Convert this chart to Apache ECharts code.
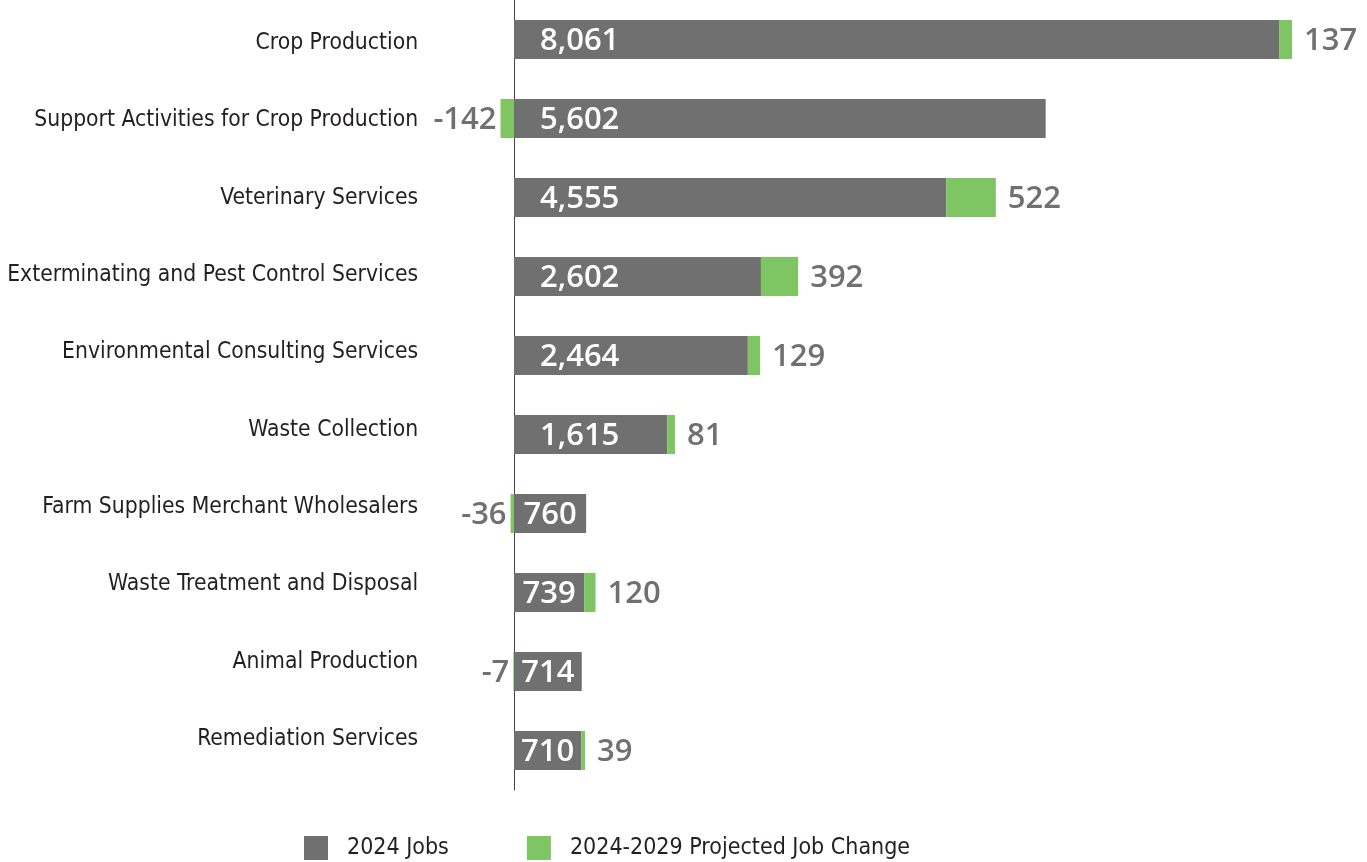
<!DOCTYPE html>
<html>
<head>
<meta charset="utf-8">
<script src="https://cdn.jsdelivr.net/npm/echarts@6/dist/echarts.min.js"></script>
<style>
html,body{margin:0;padding:0;background:#fff;}
#chart{width:1367px;height:862px;}
</style>
</head>
<body>
<div id="chart"></div>
<script>
const categories = [
  'Crop Production',
  'Support Activities for Crop Production',
  'Veterinary Services',
  'Exterminating and Pest Control Services',
  'Environmental Consulting Services',
  'Waste Collection',
  'Farm Supplies Merchant Wholesalers',
  'Waste Treatment and Disposal',
  'Animal Production',
  'Remediation Services'
];
const jobs2024 = [8061, 5602, 4555, 2602, 2464, 1615, 760, 739, 714, 710];
const jobChange = [137, -142, 522, 392, 129, 81, -36, 120, -7, 39];
const seriesNames = ['2024 Jobs', '2024-2029 Projected Job Change'];

const GRAY = '#6f706f';
const GREEN = '#80c563';
const valueFont = 'Open Sans';
const catFont = '"DejaVu Sans Condensed", "Liberation Sans Narrow", Roboto, sans-serif';

const chart = echarts.init(document.getElementById('chart'));

const fmt = v => (v < 0 ? '-' : '') + Math.abs(v).toLocaleString('en-US');

const option = {
  animation: false,
  grid: [
    { left: 419.1, width: 901.6, top: 0, height: 790, containLabel: false },
    { left: 419.1, width: 901.6, top: 4.3, height: 773.4, containLabel: false }
  ],
  xAxis: [
    { gridIndex: 0, type: 'value', min: -1000, max: 8500, show: false },
    { gridIndex: 1, type: 'value', min: 0, max: 1, show: false }
  ],
  yAxis: [
    {
      gridIndex: 0, type: 'category', data: categories, inverse: true,
      axisLine: { show: true, onZero: true, lineStyle: { color: '#444', width: 1 } },
      axisTick: { show: false }, axisLabel: { show: false }, splitLine: { show: false }
    },
    {
      gridIndex: 1, type: 'category', data: categories, inverse: true,
      axisLine: { show: false }, axisTick: { show: false }, splitLine: { show: false },
      axisLabel: {
        show: true, margin: 1,
        fontFamily: catFont, fontSize: 22.7, color: '#231f20'
      }
    }
  ],
  legend: {
    left: 304, top: 836, padding: 0,
    icon: 'rect', itemWidth: 24, itemHeight: 24, itemGap: 78,
    data: seriesNames,
    textStyle: { fontFamily: catFont, fontSize: 23, color: '#231f20', padding: [0, 0, 0, 14] }
  },
  series: [
    {
      name: seriesNames[0], type: 'bar', stack: 'total', xAxisIndex: 0, yAxisIndex: 0,
      barWidth: 39,
      itemStyle: { color: GRAY },
      data: jobs2024.map(v => ({
        value: v,
        label: v < 1000 ? { position: 'inside' } : { position: 'insideLeft', distance: 26 }
      })),
      label: {
        show: true, color: '#fff', fontFamily: valueFont, fontWeight: 600, fontSize: 31,
        offset: [0, 2],
        formatter: p => fmt(p.value)
      }
    },
    {
      name: seriesNames[1], type: 'bar', stack: 'total', xAxisIndex: 0, yAxisIndex: 0,
      barWidth: 39,
      itemStyle: { color: GREEN },
      data: jobChange.map(v => ({
        value: v,
        label: v < 0 ? { position: 'left', distance: 4 } : { position: 'right', distance: 12 }
      })),
      label: {
        show: true, color: GRAY, fontFamily: valueFont, fontWeight: 600, fontSize: 31,
        offset: [0, 2],
        formatter: p => fmt(p.value)
      }
    }
  ]
};
chart.setOption(option);
</script>
</body>
</html>
